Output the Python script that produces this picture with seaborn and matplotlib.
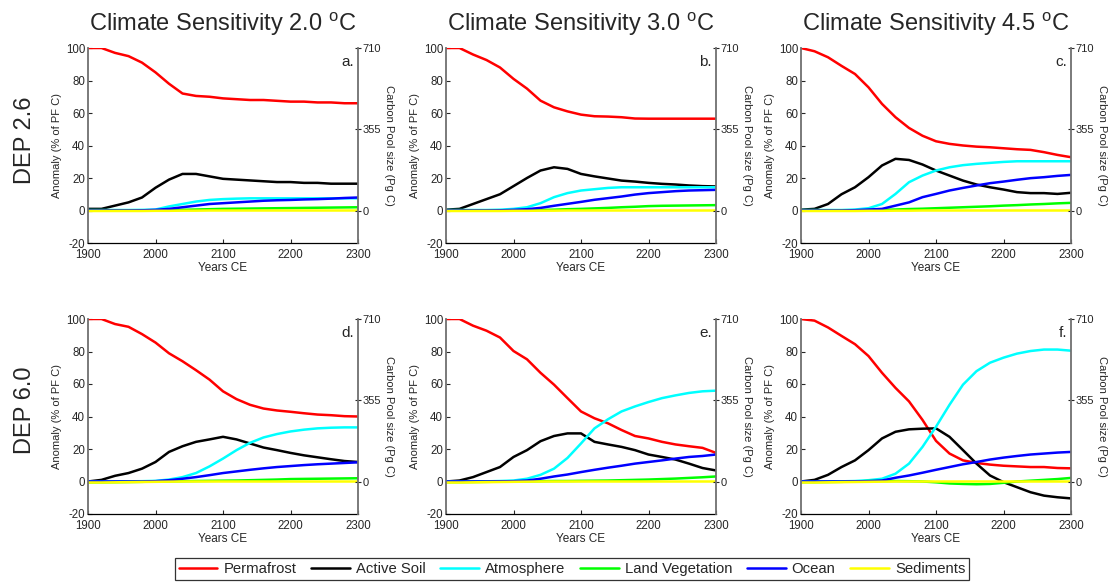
import numpy as np
import pandas as pd
import seaborn as sns
import matplotlib.pyplot as plt

sns.set_style("ticks")
plt.rcParams['font.family'] = ['Liberation Sans', 'DejaVu Sans']
plt.rcParams['mathtext.fontset'] = 'custom'
plt.rcParams['mathtext.rm'] = 'Liberation Sans'
plt.rcParams['axes.unicode_minus'] = False

years = [1900, 1920, 1940, 1960, 1980, 2000, 2020, 2040, 2060, 2080, 2100,
         2120, 2140, 2160, 2180, 2200, 2220, 2240, 2260, 2280, 2300]
pools = ["Permafrost", "Active Soil", "Atmosphere", "Land Vegetation", "Ocean", "Sediments"]
colors = ["#ff0000", "#000000", "#00ffff", "#00ff00", "#0000ff", "#ffff00"]
sensitivities = ["2.0", "3.0", "4.5"]
scenarios = ["DEP 2.6", "DEP 6.0"]
letters = ["a.", "b.", "c.", "d.", "e.", "f."]
xticks = [1900, 2000, 2100, 2200, 2300]
yticks = [-20, 0, 20, 40, 60, 80, 100]
rticks = [0, 355, 710]

sed_low = [-0.3, -0.3, -0.3, -0.3, -0.3, -0.2, -0.2, -0.1, -0.1, 0, 0, 0, 0, 0, 0, 0, 0, 0, 0, 0, 0]
sed_high = [-0.6, -0.6, -0.5, -0.4, -0.3, -0.2, -0.1, 0, 0, 0, 0, 0, 0, 0, 0, 0, 0, 0, 0, 0, 0]

panel_a = {
    "Permafrost": [100, 100, 97, 95, 91, 85, 78, 72, 70.5, 70, 69, 68.5, 68, 68, 67.5, 67, 67, 66.5, 66.5, 66, 66],
    "Active Soil": [1, 1, 3, 5, 8, 14, 19, 22.5, 22.5, 21, 19.5, 19, 18.5, 18, 17.5, 17.5, 17, 17, 16.5, 16.5, 16.5],
    "Atmosphere": [0.3, 0.3, 0.3, 0.3, 0.4, 0.6, 2.5, 4, 5.5, 6.5, 7, 7.3, 7.5, 7.5, 7.5, 7.5, 7.5, 7.5, 7.5, 7.5, 7.5],
    "Land Vegetation": [0, 0, 0, 0, 0, 0, 0.2, 0.4, 0.6, 0.8, 1, 1.1, 1.2, 1.3, 1.4, 1.5, 1.6, 1.7, 1.8, 1.9, 2],
    "Ocean": [0, 0, 0, 0, 0.1, 0.4, 1, 2, 3, 4, 4.5, 5, 5.5, 6, 6.3, 6.5, 6.8, 7, 7.3, 7.7, 8],
    "Sediments": sed_low,
}
panel_b = {
    "Permafrost": [100, 100, 96, 92.6, 88, 81, 75, 67.6, 63.5, 61, 59, 58, 57.8, 57.4, 56.6, 56.5, 56.5, 56.5, 56.5, 56.5, 56.5],
    "Active Soil": [0.5, 1, 4, 7, 10, 15, 20, 24.6, 26.6, 25.6, 22.5, 21, 19.7, 18.4, 17.8, 17, 16.4, 16, 15.4, 15, 14.8],
    "Atmosphere": [0.3, 0.3, 0.3, 0.3, 0.5, 1, 2, 4.5, 8.2, 10.7, 12.3, 13.1, 13.9, 14.3, 14.3, 14.3, 14.3, 14.3, 14.3, 14.3, 14.3],
    "Land Vegetation": [0, 0, 0, 0, 0, 0.1, 0.2, 0.3, 0.5, 0.8, 1, 1.3, 1.6, 2, 2.3, 2.7, 2.9, 3, 3.1, 3.2, 3.3],
    "Ocean": [0, 0, 0, 0, 0.1, 0.4, 0.8, 1.6, 2.9, 4.1, 5.3, 6.6, 7.6, 8.6, 9.8, 10.7, 11.3, 11.9, 12.3, 12.5, 12.7],
    "Sediments": sed_low,
}
panel_c = {
    "Permafrost": [100, 98, 94.3, 89, 84, 75.8, 65.6, 57.4, 50.8, 46, 42.6, 41, 40, 39.3, 38.9, 38.3, 37.7, 37.3, 35.9, 34.2, 32.8],
    "Active Soil": [0.5, 1, 4, 10, 14.3, 20.5, 27.7, 31.8, 31.1, 28.3, 24.6, 21.5, 18.4, 16, 14.3, 12.9, 11.3, 10.7, 10.7, 10.2, 10.9],
    "Atmosphere": [0.3, 0.3, 0.3, 0.3, 0.6, 1.4, 4, 10.2, 17.4, 21.5, 24.6, 26.6, 27.9, 28.7, 29.3, 29.9, 30.3, 30.3, 30.3, 30.3, 30.3],
    "Land Vegetation": [0, 0, 0, 0, 0, 0.2, 0.4, 0.6, 0.9, 1.1, 1.4, 1.7, 2, 2.3, 2.6, 3, 3.3, 3.7, 4, 4.4, 4.7],
    "Ocean": [0, 0, 0, 0, 0.2, 0.6, 1, 3, 5, 8.2, 10.2, 12.3, 13.9, 15.4, 16.8, 17.8, 18.9, 19.9, 20.5, 21.3, 21.9],
    "Sediments": sed_low,
}
panel_d = {
    "Permafrost": [100, 100, 96.9, 95.2, 90.7, 85.5, 78.9, 74, 68.5, 62.7, 55.5, 50.7, 47.2, 44.9, 43.7, 42.9, 42, 41.2, 40.8, 40.2, 40],
    "Active Soil": [0, 1, 3.5, 5.2, 7.9, 12, 18.2, 21.7, 24.4, 25.9, 27.5, 25.9, 23.4, 20.9, 19.3, 17.6, 16.1, 14.9, 13.7, 12.6, 12],
    "Atmosphere": [0, 0, 0, 0.1, 0.2, 0.4, 1.2, 2.7, 5.2, 9.3, 14.1, 19.3, 23.8, 27.1, 29.2, 30.8, 31.9, 32.7, 33.1, 33.3, 33.3],
    "Land Vegetation": [-0.5, -0.5, -0.4, -0.3, -0.2, 0, 0.1, 0.2, 0.3, 0.4, 0.5, 0.6, 0.8, 1, 1.2, 1.5, 1.6, 1.7, 1.8, 1.9, 2],
    "Ocean": [0, 0, 0, 0, 0, 0.2, 0.8, 1.7, 2.7, 3.9, 5.2, 6.2, 7.2, 8.1, 8.9, 9.5, 10.1, 10.6, 11, 11.4, 11.8],
    "Sediments": sed_high,
}
panel_e = {
    "Permafrost": [100, 100, 95.9, 92.8, 88.6, 80.3, 75.2, 66.9, 59.6, 51.3, 43.1, 38.9, 35.8, 31.7, 28, 26.5, 24.4, 22.8, 21.7, 20.7, 17.6],
    "Active Soil": [0, 0.6, 2.7, 5.8, 8.9, 15.1, 19.3, 24.8, 28, 29.6, 29.6, 24.4, 22.8, 21.3, 19.3, 16.6, 15.1, 13.5, 11, 8.3, 6.8],
    "Atmosphere": [0, 0, 0, 0.1, 0.3, 0.6, 1.7, 4.1, 7.9, 14.5, 23.4, 32.7, 38.3, 43.1, 46.2, 48.9, 51.3, 53, 54.5, 55.5, 55.9],
    "Land Vegetation": [-0.4, -0.4, -0.3, -0.2, -0.1, 0, 0.1, 0.2, 0.3, 0.3, 0.4, 0.5, 0.6, 0.8, 1, 1.2, 1.5, 1.8, 2.2, 2.6, 3.1],
    "Ocean": [0, 0, 0, 0, 0.1, 0.2, 0.6, 1.7, 3.1, 4.3, 5.8, 7.2, 8.5, 9.7, 11, 12, 13, 14.1, 15.1, 15.7, 16.6],
    "Sediments": sed_high,
}
panel_f = {
    "Permafrost": [100, 99, 94.8, 89.6, 84.5, 77.2, 66.9, 57.6, 49.3, 37.9, 25, 17.2, 13, 11.4, 10.4, 9.7, 9.3, 8.9, 8.9, 8.3, 8.1],
    "Active Soil": [0, 1, 4.1, 8.9, 13, 19.3, 26.5, 30.6, 32.1, 32.5, 32.7, 27.5, 19.3, 11, 3.7, -0.4, -3.5, -6.6, -8.7, -9.7, -10.4],
    "Atmosphere": [0, 0, 0, 0.1, 0.3, 0.8, 1.7, 4.8, 11, 21.3, 33.7, 47.2, 59.6, 67.9, 73.1, 76.2, 78.7, 80.3, 81.2, 81.2, 80.5],
    "Land Vegetation": [-0.4, -0.4, -0.3, -0.2, 0, 0.3, 0.3, 0.3, 0.2, 0, -0.5, -1.2, -1.5, -1.7, -1.5, -0.8, 0, 0.5, 1, 1.5, 2.2],
    "Ocean": [0, 0, 0, 0, 0.1, 0.2, 0.6, 2.3, 3.7, 5.4, 7.2, 8.9, 10.6, 12, 13.5, 14.7, 15.7, 16.6, 17.2, 17.8, 18.2],
    "Sediments": sed_high,
}
panels = [panel_a, panel_b, panel_c, panel_d, panel_e, panel_f]

fig = plt.figure(figsize=(11.12, 5.82), dpi=100)
col_left = [88 / 1112, 446 / 1112, 801 / 1112]
width = 270 / 1112
row_bottom = [1 - 243 / 582, 1 - 514 / 582]
height = 195 / 582
spine_grey = "#707070"

first_ax = None
for i, pdata in enumerate(panels):
    r, c = divmod(i, 3)
    ax = fig.add_axes([col_left[c], row_bottom[r], width, height])
    df = pd.DataFrame({
        "Year": years * len(pools),
        "Pool": [p for p in pools for _ in years],
        "Value": [v for p in pools for v in pdata[p]],
    })
    sns.lineplot(data=df, x="Year", y="Value", hue="Pool", hue_order=pools,
                 palette=colors, ax=ax, legend=False, linewidth=1.8,
                 errorbar=None, sort=True)
    ax.set_xlim(1900, 2300)
    ax.set_ylim(-20, 100)
    ax.set_xticks(xticks)
    ax.set_yticks(yticks)
    ax.tick_params(direction="in", length=3, labelsize=8.3)
    ax.tick_params(axis="x", pad=4)
    ax.tick_params(axis="y", pad=2)
    ax.spines["top"].set_visible(False)
    ax.spines["right"].set_visible(False)
    ax.spines["left"].set_color(spine_grey)
    ax.spines["left"].set_linewidth(1.3)
    ax.spines["bottom"].set_color("black")
    ax.spines["bottom"].set_linewidth(0.9)
    ax.set_xlabel("Years CE", fontsize=8.5, labelpad=1)
    ax.set_ylabel("Anomaly (% of PF C)", fontsize=8, labelpad=3)
    ax.text(0.985, 0.965, letters[i], transform=ax.transAxes, ha="right",
            va="top", fontsize=11)

    ax2 = ax.twinx()
    ax2.set_ylim(-142, 710)
    ax2.set_yticks(rticks)
    ax2.tick_params(direction="inout", length=5, labelsize=8, pad=1)
    for s in ["top", "left", "bottom"]:
        ax2.spines[s].set_visible(False)
    ax2.spines["right"].set_color(spine_grey)
    ax2.spines["right"].set_linewidth(1.3)
    ax2.set_ylabel("Carbon Pool size (Pg C)", rotation=-90, va="bottom",
                   fontsize=8, labelpad=2)

    if r == 0:
        ax.set_title(r"Climate Sensitivity " + sensitivities[c] + r" $^{\mathrm{o}}$C",
                     fontsize=17, pad=12)
    if first_ax is None:
        first_ax = ax

fig.text(25 / 1112, 1 - 140 / 582, scenarios[0], rotation=90, ha="center",
         va="center", fontsize=17)
fig.text(25 / 1112, 1 - 410 / 582, scenarios[1], rotation=90, ha="center",
         va="center", fontsize=17)

handles = first_ax.lines[:len(pools)]
leg = fig.legend(handles, pools, ncol=6, loc="center",
                 bbox_to_anchor=(572 / 1112, 1 - 569 / 582), frameon=True,
                 fancybox=False, edgecolor="black", fontsize=10.7,
                 handlelength=2.6, columnspacing=1.0, handletextpad=0.4,
                 borderpad=0.25)
leg.get_frame().set_linewidth(0.9)

fig.savefig("out.png", dpi=100)
